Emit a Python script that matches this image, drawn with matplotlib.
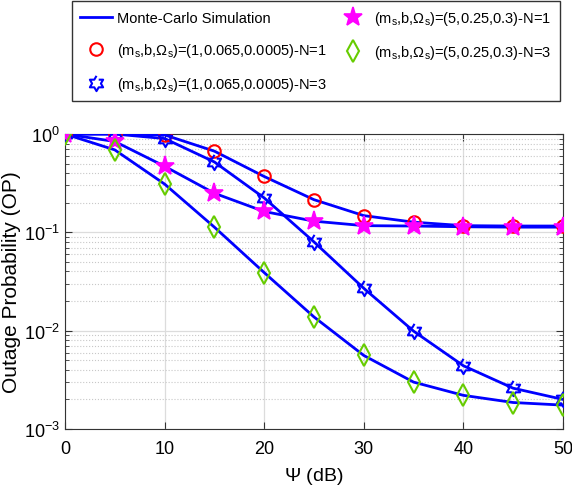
import numpy as np
import matplotlib.pyplot as plt

fonte = 'Liberation Sans'
plt.rcParams['font.family'] = [fonte, 'DejaVu Sans']
plt.rcParams['mathtext.fontset'] = 'custom'
plt.rcParams['mathtext.rm'] = fonte
plt.rcParams['mathtext.it'] = fonte

psi = [0, 5, 10, 15, 20, 25, 30, 35, 40, 45, 50]  # Psi (dB)
op_n1_a = [1.0, 1.0, 0.98, 0.67, 0.37, 0.215, 0.148, 0.127, 0.117, 0.116, 0.116]
op_n3_a = [1.0, 1.0, 0.90, 0.52, 0.224, 0.080, 0.027, 0.0099, 0.0044, 0.0026, 0.0020]
op_n1_b = [1.0, 0.84, 0.47, 0.25, 0.163, 0.130, 0.117, 0.116, 0.114, 0.113, 0.113]
op_n3_b = [1.0, 0.69, 0.31, 0.113, 0.039, 0.0138, 0.0056, 0.0030, 0.0022, 0.00186, 0.00175]

lab_a = r'($\mathregular{m_s}$,b,$\Omega_\mathregular{s}$)=(1,0.065,0.0005)'
lab_b = r'($\mathregular{m_s}$,b,$\Omega_\mathregular{s}$)=(5,0.25,0.3)'

# marcador hexagrama (estrela de Davi)
ang = np.pi / 2 + np.arange(12) * np.pi / 6
raio = np.where(np.arange(12) % 2 == 0, 1.0, 1 / np.sqrt(3))
hexagrama = list(zip(raio * np.cos(ang), raio * np.sin(ang)))

fig = plt.figure(figsize=(5.72, 5.02), dpi=100)
ax = fig.add_axes([0.1136, 0.1434, 0.8706, 0.5876])

azul = '#0000ff'
for op in [op_n1_a, op_n3_a, op_n1_b, op_n3_b]:
    ax.plot(psi, op, color=azul, lw=2, zorder=3)
linha, = ax.plot([], [], color=azul, lw=2)

m1, = ax.plot(psi, op_n1_a, ls='none', marker='o', ms=9, mfc='none', mec='red', mew=1.5, zorder=4)
m2, = ax.plot(psi, op_n3_a, ls='none', marker=hexagrama, ms=11, mfc='none', mec=azul, mew=1.5, zorder=4)
m3, = ax.plot(psi, op_n1_b, ls='none', marker='*', ms=14, mfc='#ff00ff', mec='#ff00ff', mew=1.2, zorder=4)
m4, = ax.plot(psi, op_n3_b, ls='none', marker='d', ms=11, mfc='none', mec='#66cc00', mew=1.5, zorder=4)

ax.set_yscale('log')
ax.set_xlim(0, 50)
ax.set_ylim(1e-3, 1)
ax.set_xticks([0, 10, 20, 30, 40, 50])
ax.grid(True, which='major', color='#dcdcdc', lw=0.9)
ax.grid(True, which='minor', axis='y', color='#c8c8c8', ls=':', lw=0.8)
ax.set_axisbelow(True)
ax.tick_params(which='both', direction='in', top=True, right=True, labelsize=13, color='#333333')
ax.tick_params(axis='x', pad=8)
ax.tick_params(which='major', length=5)
ax.tick_params(which='minor', length=3)
for s in ax.spines.values():
    s.set_color('#333333')
ax.set_xlabel(r'$\Psi$ (dB)', fontsize=14, labelpad=6)
ax.set_ylabel('Outage Probability (OP)', fontsize=15, labelpad=2)

fig.legend([linha, m1, m2, m3, m4],
           ['Monte-Carlo Simulation', lab_a + '-N=1', lab_a + '-N=3', lab_b + '-N=1', lab_b + '-N=3'],
           ncol=2, loc='upper left', bbox_to_anchor=(0.1259, 0.996),
           fontsize=10.5, fancybox=False, edgecolor='#333333', framealpha=1, handlelength=2.2,
           handletextpad=0.35, columnspacing=0.7, labelspacing=1.1, borderpad=0.55,
           borderaxespad=0)

fig.savefig('out.png', dpi=100)
